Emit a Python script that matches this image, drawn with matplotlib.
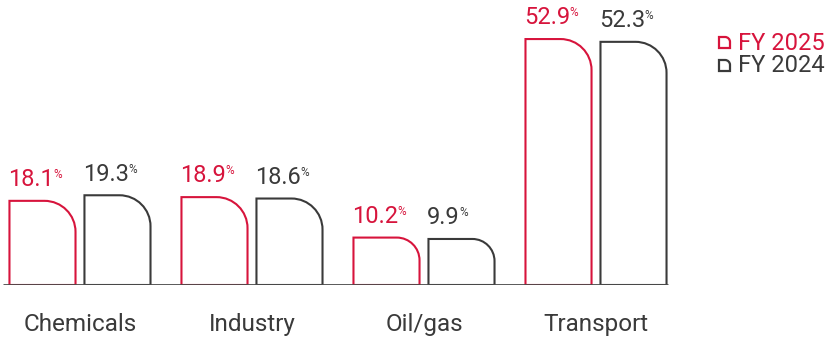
import matplotlib.pyplot as plt
import numpy as np
from matplotlib.path import Path
from matplotlib.patches import PathPatch

# Share by segment, in %
segments = ['Chemicals', 'Industry', 'Oil/gas', 'Transport']
fy2025 = [18.1, 18.9, 10.2, 52.9]
fy2024 = [19.3, 18.6, 9.9, 52.3]
years = ['FY 2025', 'FY 2024']

red = '#d7143c'
grey = '#3a3a3a'

plt.rcParams['font.family'] = ['Roboto', 'DejaVu Sans']

fig = plt.figure(figsize=(8.32, 3.38), dpi=100)
ax = fig.add_axes([0, 53 / 338, 1, 285 / 338])
ax.set_xlim(-0.465, 4.372)
ax.set_ylim(0, 61.3)
ax.axis('off')

# px per data unit, used to keep the rounded corner circular
px = ax.transData.transform((1, 1)) - ax.transData.transform((0, 0))
sx, sy = px[0], px[1]

K = 0.5523

def rounded_bar(x0, w, h, color):
    hpx = h * sy
    r = min(31, 0.48 * hpx)
    rx, ry = r / sx, r / sy
    x1 = x0 + w
    verts = [(x0, 0), (x0, h), (x1 - rx, h),
             (x1 - rx + K * rx, h), (x1, h - ry + K * ry), (x1, h - ry),
             (x1, 0), (x0, 0)]
    codes = [Path.MOVETO, Path.LINETO, Path.LINETO,
             Path.CURVE4, Path.CURVE4, Path.CURVE4,
             Path.LINETO, Path.CLOSEPOLY]
    ax.add_patch(PathPatch(Path(verts, codes), fc='none', ec=color, lw=1.5,
                           joinstyle='miter', zorder=2))

def value_label(x0, h, v, color):
    t = ax.annotate(f'{v:.1f}', xy=(x0, h), xytext=(-1, 7), textcoords='offset points',
                    ha='left', va='bottom', fontsize=17, color=color)
    ax.annotate('%', xy=(1, 1), xycoords=t, xytext=(-0.5, 0), textcoords='offset points',
                ha='left', va='top', fontsize=8.5, color=color)

w = 0.384
off = 0.218
x = np.arange(len(segments))
for i in x:
    rounded_bar(i - off - w / 2, w, fy2025[i], red)
    rounded_bar(i + off - w / 2, w, fy2024[i], grey)
    value_label(i - off - w / 2, fy2025[i], fy2025[i], red)
    value_label(i + off - w / 2, fy2024[i], fy2024[i], grey)
    ax.text(i, -8.4, segments[i], ha='center', va='center', fontsize=17.5, color=grey)

ax.plot([-0.45, x[-1] + off + w / 2 + 0.01], [0, 0], color='#4a4a4a', lw=2,
        solid_capstyle='butt', zorder=3)

# legend with small bar-shaped icons
def legend_icon(x0, y0, color):
    s = 11 / 100
    r = 0.45 * s
    verts = [(x0, y0), (x0, y0 + s), (x0 + s - r, y0 + s),
             (x0 + s - r + K * r, y0 + s), (x0 + s, y0 + s - r + K * r), (x0 + s, y0 + s - r),
             (x0 + s, y0), (x0, y0)]
    codes = [Path.MOVETO, Path.LINETO, Path.LINETO,
             Path.CURVE4, Path.CURVE4, Path.CURVE4,
             Path.LINETO, Path.CLOSEPOLY]
    fig.patches.append(PathPatch(Path(verts, codes), fc='none', ec=color, lw=1.6,
                                 transform=fig.dpi_scale_trans, figure=fig))

for j, (lab, c) in enumerate(zip(years, [red, grey])):
    ytop = 338 - 37 - j * 23
    legend_icon(7.19, (ytop - 11) / 100, c)
    fig.text(738 / 832, (ytop - 6) / 338, lab, ha='left', va='center', fontsize=17, color=c)

fig.savefig('out.png', dpi=100)
